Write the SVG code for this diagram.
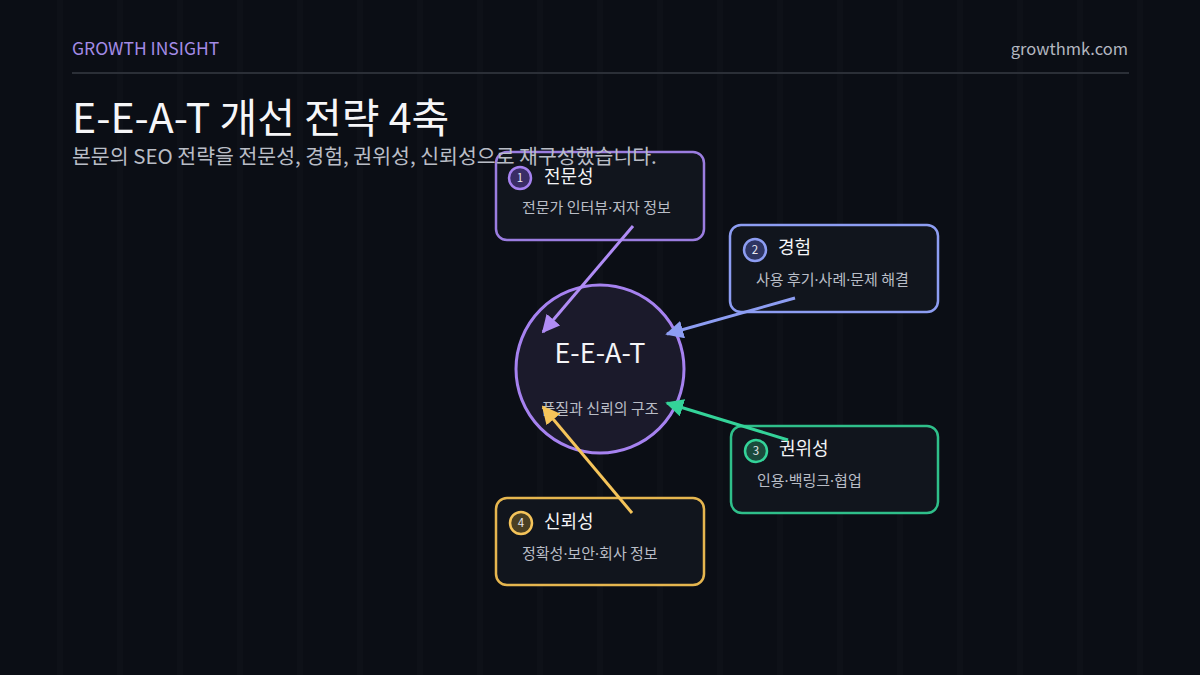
<svg xmlns="http://www.w3.org/2000/svg" width="1200" height="675" viewBox="0 0 1200 675">
<defs>
<style>
text{font-family:"Noto Sans CJK KR","Noto Sans",sans-serif;}
.box{stroke-width:2.5;fill:#11151d;}
.badge{stroke-width:2.5;}
.num{font-size:11.5px;fill:#e8e8ee;text-anchor:middle;}
.ttl{font-size:18px;fill:#f4f4f7;}
.sub{font-size:15px;fill:#b9bdc6;}
.dot{font-family:"Noto Sans",sans-serif;}
.grid line{stroke:#ffffff;stroke-opacity:0.015;stroke-width:6;}
.conn{stroke-width:3;fill:none;}
</style>
<marker id="m1" viewBox="0 0 10 10" refX="9" refY="5" markerWidth="6" markerHeight="6" orient="auto" markerUnits="strokeWidth"><path d="M0,0 L10,5 L0,10 z" fill="#b08cf5"/></marker>
<marker id="m2" viewBox="0 0 10 10" refX="9" refY="5" markerWidth="6" markerHeight="6" orient="auto" markerUnits="strokeWidth"><path d="M0,0 L10,5 L0,10 z" fill="#8d9df2"/></marker>
<marker id="m3" viewBox="0 0 10 10" refX="9" refY="5" markerWidth="6" markerHeight="6" orient="auto" markerUnits="strokeWidth"><path d="M0,0 L10,5 L0,10 z" fill="#34d399"/></marker>
<marker id="m4" viewBox="0 0 10 10" refX="9" refY="5" markerWidth="6" markerHeight="6" orient="auto" markerUnits="strokeWidth"><path d="M0,0 L10,5 L0,10 z" fill="#f5c45a"/></marker>
</defs>
<rect x="0" y="0" width="1200" height="675" fill="#0b0e15"/>
<g class="grid">
<line x1="60" y1="0" x2="60" y2="675"/><line x1="120" y1="0" x2="120" y2="675"/><line x1="180" y1="0" x2="180" y2="675"/><line x1="240" y1="0" x2="240" y2="675"/><line x1="300" y1="0" x2="300" y2="675"/><line x1="360" y1="0" x2="360" y2="675"/><line x1="420" y1="0" x2="420" y2="675"/><line x1="480" y1="0" x2="480" y2="675"/><line x1="540" y1="0" x2="540" y2="675"/><line x1="600" y1="0" x2="600" y2="675"/><line x1="660" y1="0" x2="660" y2="675"/><line x1="720" y1="0" x2="720" y2="675"/><line x1="780" y1="0" x2="780" y2="675"/><line x1="840" y1="0" x2="840" y2="675"/><line x1="900" y1="0" x2="900" y2="675"/><line x1="960" y1="0" x2="960" y2="675"/><line x1="1020" y1="0" x2="1020" y2="675"/><line x1="1080" y1="0" x2="1080" y2="675"/><line x1="1140" y1="0" x2="1140" y2="675"/>
</g>
<line x1="72" y1="73" x2="1129" y2="73" stroke="#2b2f37" stroke-width="2"/>

<g id="center">
<circle cx="600" cy="369" r="84" fill="#1b1a2b" stroke="#a682f0" stroke-width="3"/>
<text x="600" y="363" font-size="27" fill="#f4f4f7" text-anchor="middle">E-E-A-T</text>
<text x="600" y="414" font-size="15" fill="#b9bdc6" text-anchor="middle">품질과 신뢰의 구조</text>
</g>

<g id="node1">
<rect class="box" x="496" y="152" width="208" height="88" rx="11" stroke="#9b7de0"/>
<circle class="badge" cx="520" cy="178" r="11" fill="#3a2d66" stroke="#a682f0"/>
<text class="num" x="520" y="182">1</text>
<text class="ttl" x="544" y="183">전문성</text>
<text class="sub" x="522" y="213">전문가 인터뷰<tspan class="dot">·</tspan>저자 정보</text>
</g>
<g id="node2">
<rect class="box" x="730" y="225" width="208" height="87" rx="11" stroke="#8d9df2"/>
<circle class="badge" cx="755" cy="250" r="11" fill="#2e3562" stroke="#8d9df2"/>
<text class="num" x="755" y="254">2</text>
<text class="ttl" x="778" y="254">경험</text>
<text class="sub" x="756" y="285">사용 후기<tspan class="dot">·</tspan>사례<tspan class="dot">·</tspan>문제 해결</text>
</g>
<g id="node3">
<rect class="box" x="731" y="426" width="207" height="87" rx="11" stroke="#2fbf8a"/>
<circle class="badge" cx="756" cy="451" r="11" fill="#1b4a3c" stroke="#34d399"/>
<text class="num" x="756" y="455">3</text>
<text class="ttl" x="779" y="455">권위성</text>
<text class="sub" x="757" y="486">인용<tspan class="dot">·</tspan>백링크<tspan class="dot">·</tspan>협업</text>
</g>
<g id="node4">
<rect class="box" x="496" y="498" width="208" height="87" rx="11" stroke="#e6b64f"/>
<circle class="badge" cx="521" cy="523" r="11" fill="#4a3f22" stroke="#f5c45a"/>
<text class="num" x="521" y="527">4</text>
<text class="ttl" x="544" y="528">신뢰성</text>
<text class="sub" x="522" y="559">정확성<tspan class="dot">·</tspan>보안<tspan class="dot">·</tspan>회사 정보</text>
</g>

<g id="connectors">
<line class="conn" x1="633" y1="226" x2="543" y2="332" stroke="#b08cf5" marker-end="url(#m1)"/>
<line class="conn" x1="795" y1="298" x2="667" y2="334" stroke="#8d9df2" marker-end="url(#m2)"/>
<line class="conn" x1="788" y1="440" x2="667" y2="403" stroke="#34d399" marker-end="url(#m3)"/>
<line class="conn" x1="632" y1="513" x2="543" y2="407" stroke="#f5c45a" marker-end="url(#m4)"/>
</g>

<g id="header">
<text x="72" y="55" font-size="17.5" fill="#a48be6">GROWTH INSIGHT</text>
<text x="1128" y="55" font-size="16.5" fill="#b3b7c0" text-anchor="end">growthmk.com</text>
<text x="72" y="133" font-size="41" fill="#f6f6f8">E-E-A-T 개선 전략 4축</text>
<text x="72" y="164" font-size="20.5" fill="#b9bdc6">본문의 SEO 전략을 전문성, 경험, 권위성, 신뢰성으로 재구성했습니다.</text>
</g>
</svg>
